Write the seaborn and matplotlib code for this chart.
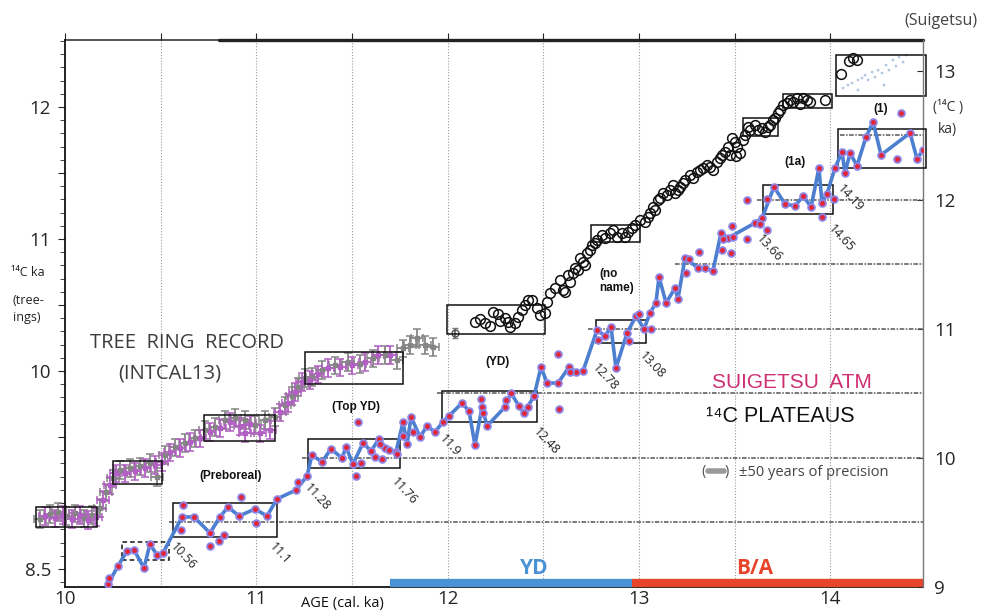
import numpy as np
import matplotlib
matplotlib.use("Agg")
import matplotlib.pyplot as plt
import seaborn as sns
from matplotlib.patches import Rectangle
from matplotlib.lines import Line2D
from matplotlib.ticker import MultipleLocator

# ---------------------------------------------------------------
# Data: calendar age (cal. ka) vs radiocarbon age (14C ka)
# ---------------------------------------------------------------

# IntCal13 tree-ring record (left axis), two interleaved series
tree_gray_cal = [9.869, 9.922, 9.963, 10.005, 10.052, 10.099, 10.141, 10.183, 10.214, 10.251,
                 10.288, 10.340, 10.392, 10.444, 10.481, 10.523, 10.575, 10.627, 10.680, 10.732,
                 10.784, 10.836, 10.889, 10.941, 10.993, 11.045, 11.098, 11.150, 11.187, 11.218,
                 11.255, 11.291, 11.343, 11.411, 11.479, 11.542, 11.610, 11.673, 11.736, 11.767,
                 11.803, 11.840, 11.882, 11.924]
tree_gray_c14 = [8.879, 8.917, 8.932, 8.902, 8.924, 8.886, 8.909, 8.962, 9.083, 9.189,
                 9.250, 9.265, 9.280, 9.303, 9.197, 9.364, 9.424, 9.455, 9.492, 9.553,
                 9.576, 9.629, 9.644, 9.629, 9.591, 9.629, 9.652, 9.742, 9.811, 9.879,
                 9.947, 9.955, 10.008, 10.045, 10.068, 10.053, 10.098, 10.121, 10.083, 10.174,
                 10.197, 10.250, 10.197, 10.182]
tree_purple_cal = [9.895, 9.948, 9.990, 10.037, 10.078, 10.120, 10.162, 10.199, 10.235, 10.267,
                   10.314, 10.366, 10.418, 10.470, 10.507, 10.549, 10.601, 10.653, 10.706, 10.758,
                   10.810, 10.863, 10.915, 10.941, 10.967, 11.019, 11.072, 11.124, 11.166, 11.202,
                   11.239, 11.281, 11.323, 11.375, 11.438, 11.500, 11.568, 11.636, 11.699]
tree_purple_c14 = [8.902, 8.886, 8.909, 8.879, 8.909, 8.871, 8.894, 9.023, 9.136, 9.227,
                   9.227, 9.242, 9.265, 9.288, 9.311, 9.386, 9.417, 9.462, 9.492, 9.538,
                   9.568, 9.614, 9.583, 9.530, 9.598, 9.530, 9.553, 9.689, 9.758, 9.841,
                   9.917, 9.932, 9.977, 10.023, 10.030, 10.045, 10.068, 10.121, 10.121]

# Suigetsu raw measurements (open circles, left axis)
circ_cal = [12.143, 12.169, 12.196, 12.222, 12.237, 12.263, 12.274, 12.300, 12.316, 12.326,
            12.352, 12.368, 12.389, 12.405, 12.420, 12.441, 12.467, 12.483, 12.509, 12.520,
            12.535, 12.561, 12.588, 12.603, 12.614, 12.629, 12.640, 12.656, 12.666, 12.682,
            12.692, 12.708, 12.718, 12.729, 12.744, 12.755, 12.771, 12.781, 12.807, 12.823,
            12.849, 12.865, 12.886, 12.912, 12.927, 12.943, 12.964, 12.980, 13.006, 13.032,
            13.048, 13.058, 13.074, 13.084, 13.100, 13.110, 13.126, 13.147, 13.163, 13.178,
            13.189, 13.204, 13.215, 13.231, 13.241, 13.267, 13.283, 13.304, 13.319, 13.335,
            13.356, 13.372, 13.387, 13.408, 13.424, 13.434, 13.450, 13.466, 13.476, 13.487,
            13.502, 13.508, 13.513, 13.529, 13.544, 13.555, 13.570, 13.581, 13.607, 13.623,
            13.644, 13.659, 13.675, 13.685, 13.701, 13.711, 13.727, 13.738, 13.753, 13.774,
            13.790, 13.806, 13.826, 13.842, 13.858, 13.879, 13.894, 13.973, 14.057, 14.098,
            14.119, 14.140]
circ_c14 = [10.371, 10.394, 10.364, 10.341, 10.447, 10.432, 10.379, 10.402, 10.371, 10.333,
            10.364, 10.409, 10.462, 10.500, 10.538, 10.538, 10.477, 10.424, 10.439, 10.523,
            10.591, 10.629, 10.689, 10.614, 10.598, 10.727, 10.674, 10.742, 10.780, 10.765,
            10.856, 10.826, 10.803, 10.894, 10.917, 10.955, 10.970, 10.992, 11.030, 11.008,
            11.045, 11.068, 11.015, 11.045, 11.015, 11.053, 11.083, 11.106, 11.144, 11.129,
            11.167, 11.197, 11.242, 11.220, 11.295, 11.311, 11.348, 11.333, 11.371, 11.409,
            11.348, 11.371, 11.394, 11.424, 11.447, 11.485, 11.462, 11.508, 11.523, 11.538,
            11.561, 11.545, 11.523, 11.583, 11.614, 11.636, 11.659, 11.697, 11.636, 11.765,
            11.735, 11.629, 11.697, 11.652, 11.750, 11.788, 11.848, 11.826, 11.864, 11.826,
            11.841, 11.811, 11.848, 11.864, 11.902, 11.917, 11.955, 11.977, 12.015, 12.030,
            12.053, 12.038, 12.068, 12.023, 12.068, 12.053, 12.038, 12.053, 12.250, 12.348,
            12.371, 12.356]
circ_err_cal = [12.039]
circ_err_c14 = [10.288]

# faint light-blue points in the upper right plateau box
faint_cal = [14.067, 14.093, 14.114, 14.145, 14.166, 14.182, 14.198, 14.219, 14.234, 14.250,
             14.271, 14.292, 14.307, 14.328, 14.344, 14.360, 14.381, 14.396, 14.145, 14.281]
faint_c14 = [12.144, 12.167, 12.182, 12.205, 12.220, 12.242, 12.205, 12.265, 12.227, 12.280,
             12.258, 12.318, 12.280, 12.356, 12.311, 12.379, 12.341, 12.394, 12.129, 12.167]

# Suigetsu atmospheric 14C (right axis): connected series + unconnected dots
suig_cal = [10.225, 10.277, 10.324, 10.361, 10.413, 10.444, 10.481, 10.512, 10.612, 10.674,
            10.758, 10.810, 10.852, 10.910, 10.993, 11.056, 11.108, 11.208, 11.265, 11.291,
            11.343, 11.390, 11.448, 11.469, 11.505, 11.558, 11.600, 11.641, 11.673, 11.730,
            11.767, 11.788, 11.809, 11.856, 11.892, 11.934, 11.976, 12.007, 12.075, 12.112,
            12.143, 12.180, 12.206, 12.300, 12.331, 12.373, 12.399, 12.452, 12.488, 12.520,
            12.577, 12.635, 12.671, 12.708, 12.781, 12.823, 12.854, 12.880, 12.938, 12.985,
            13.027, 13.058, 13.089, 13.105, 13.142, 13.189, 13.204, 13.241, 13.309, 13.346,
            13.387, 13.429, 13.466, 13.607, 13.644, 13.706, 13.764, 13.816, 13.858, 13.900,
            13.941, 13.957, 13.983, 14.025, 14.062, 14.077, 14.104, 14.140, 14.187, 14.224,
            14.266, 14.417, 14.454, 14.485]
suig_c14 = [9.023, 9.163, 9.279, 9.287, 9.147, 9.333, 9.248, 9.264, 9.543, 9.543,
            9.419, 9.543, 9.620, 9.550, 9.605, 9.550, 9.682, 9.752, 9.860, 10.023,
            9.969, 10.070, 10.000, 10.085, 9.953, 10.116, 10.054, 10.147, 10.078, 10.047,
            10.279, 10.109, 10.318, 10.163, 10.248, 10.202, 10.279, 10.326, 10.426, 10.364,
            10.101, 10.395, 10.248, 10.395, 10.504, 10.403, 10.349, 10.481, 10.705, 10.581,
            10.581, 10.705, 10.667, 10.674, 10.992, 10.946, 11.016, 10.698, 10.969, 11.101,
            11.000, 11.124, 11.202, 11.403, 11.202, 11.318, 11.233, 11.550, 11.473, 11.473,
            11.450, 11.744, 11.705, 11.822, 11.860, 12.101, 11.969, 11.953, 12.031, 11.946,
            12.248, 11.977, 12.047, 12.248, 12.372, 12.209, 12.364, 12.264, 12.488, 12.605,
            12.349, 12.519, 12.318, 12.388]
suig_extra_cal = [10.230, 10.606, 10.617, 10.758, 10.805, 10.831, 10.920, 10.998, 11.218, 11.521,
                  11.532, 11.547, 11.620, 11.647, 11.657, 11.694, 11.736, 11.767, 11.819, 12.175,
                  12.185, 12.305, 12.420, 12.577, 12.582, 12.640, 12.786, 12.948, 13.001, 13.063,
                  13.246, 13.262, 13.314, 13.434, 13.439, 13.481, 13.487, 13.492, 13.565, 13.565,
                  13.633, 13.670, 13.670, 13.957, 14.020, 14.349, 14.370]
suig_extra_c14 = [9.070, 9.442, 9.636, 9.318, 9.357, 9.403, 9.698, 9.496, 9.814, 9.860,
                  10.279, 9.961, 10.008, 10.109, 9.992, 10.062, 10.031, 10.171, 10.202, 10.457,
                  10.349, 10.450, 10.395, 10.806, 10.380, 10.667, 10.915, 10.907, 11.116, 11.000,
                  11.434, 11.543, 11.597, 11.612, 11.698, 11.589, 11.798, 11.713, 12.000, 11.698,
                  11.814, 11.767, 12.008, 11.868, 12.008, 12.318, 12.674]

# plateau boxes (cal0, cal1, c14_0, c14_1)
tree_boxes = [(9.848, 10.167, 8.818, 8.970), (10.251, 10.507, 9.144, 9.318),
              (10.727, 11.098, 9.470, 9.667), (11.255, 11.767, 9.902, 10.144)]
circ_boxes = [(11.997, 12.509, 10.280, 10.500), (12.750, 13.006, 10.977, 11.106),
              (13.544, 13.727, 11.780, 11.917), (13.753, 14.009, 11.992, 12.098),
              (14.030, 14.500, 12.083, 12.394)]
suig_boxes = [(10.565, 11.108, 9.388, 9.651), (11.270, 11.751, 9.922, 10.147),
              (11.971, 12.467, 10.279, 10.519), (12.776, 13.037, 10.891, 11.070),
              (13.649, 14.015, 11.891, 12.116), (14.041, 14.500, 12.248, 12.550)]
suig_dashed_box = (10.298, 10.544, 9.209, 9.349)

# plateau reference levels (right axis) and where they start
plateau_levels = [9.5, 10.0, 10.5, 11.0, 11.5, 12.0, 12.5]
plateau_starts = [10.544, 11.239, 11.945, 12.734, 13.189, 13.617, 14.051]

# climate periods along the bottom
period_names = ["YD", "B/A"]
period_start = [11.699, 12.964]
period_end = [12.964, 14.485]
period_colors = ["#4a92d6", "#e8432b"]

# plateau boundary ages written along the Suigetsu curve
age_labels = ["10.56", "11.1", "11.28", "11.76", "11.9", "12.48",
              "12.78", "13.08", "13.66", "14.65", "14.19"]

# ---------------------------------------------------------------
W, H = 994, 612


def at(px, py):
    """Reference pixel position -> figure fraction."""
    return px / W, 1 - py / H


sns.set_style("white")
plt.rcParams["font.family"] = ["Open Sans", "DejaVu Sans"]

fig = plt.figure(figsize=(W / 100, H / 100), dpi=100)
ax = fig.add_axes([65 / W, 25 / H, 858 / W, 547 / H])
ax2 = ax.twinx()

ax.set_xlim(10, 14.485)
ax.set_ylim(8.364, 12.508)
ax2.set_ylim(9, 13.240)

# grid: dotted verticals every 0.5 ka
xt = np.arange(10, 14.49, 0.5)
for x in xt[1:]:
    ax.axvline(x, color="#9a9a9a", lw=0.8, ls=(0, (1, 1.6)), zorder=0)

# plateau reference lines
ax2.hlines(plateau_levels, plateau_starts, 14.485, colors="#555555",
           linestyles=[(0, (3, 1, 1, 1))], lw=1.1, zorder=1)

# tree-ring record with error bars
for cal, c14, col in [(tree_gray_cal, tree_gray_c14, "#858585"),
                      (tree_purple_cal, tree_purple_c14, "#b15fc2")]:
    eb = ax.errorbar(cal, c14, yerr=0.065, xerr=0.03, fmt="s", ms=3,
                     color=col, ecolor=col, elinewidth=1.3, capsize=3,
                     capthick=1.1, zorder=2)
    eb.lines[0].set_clip_on(False)
    for a in list(eb.lines[1]) + list(eb.lines[2]):
        a.set_clip_on(False)

# Suigetsu open circles
ax.plot(circ_cal, circ_c14, "o", mfc="none", mec="#111111", ms=7, mew=1.1, zorder=3)
ax.errorbar(circ_err_cal, circ_err_c14, yerr=0.04, fmt="o", mfc="none", mec="#555555",
            ecolor="#777777", ms=5, capsize=2.5, zorder=3)
sns.scatterplot(x=faint_cal, y=faint_c14, ax=ax, s=4, color="#b4c6e2",
                edgecolor="none", zorder=2)

# plateau boxes
for x0, x1, y0, y1 in tree_boxes + circ_boxes:
    ax.add_patch(Rectangle((x0, y0), x1 - x0, y1 - y0, fill=False, ec="#111111",
                           lw=1.1, clip_on=False, zorder=4))
for x0, x1, y0, y1 in suig_boxes:
    ax2.add_patch(Rectangle((x0, y0), x1 - x0, y1 - y0, fill=False, ec="#111111",
                            lw=1.1, clip_on=False, zorder=4))
x0, x1, y0, y1 = suig_dashed_box
ax2.add_patch(Rectangle((x0, y0), x1 - x0, y1 - y0, fill=False, ec="#111111",
                        lw=1.1, ls=(0, (3, 2)), zorder=4))

# Suigetsu atmospheric series
sns.lineplot(x=suig_cal, y=suig_c14, ax=ax2, sort=False, estimator=None,
             color="#4d7fd0", lw=2.6, zorder=5)
sns.scatterplot(x=suig_cal + suig_extra_cal, y=suig_c14 + suig_extra_c14, ax=ax2,
                s=24, color="#e2263a", edgecolor="#8c86e6", linewidth=1.3, zorder=6)

# period bars along the bottom
for s, e, c in zip(period_start, period_end, period_colors):
    ax.hlines(0.0075, s, e, transform=ax.get_xaxis_transform(), color=c, lw=6,
              clip_on=False, zorder=7)

# ---- axes, ticks, spines ----
ax.set_xticks(xt)
ax.set_xticklabels([f"{t:.0f}" if t == int(t) else "" for t in xt])
ax.tick_params(axis="x", direction="in", length=5, labelsize=13.5, pad=2, color="#222")
sec = ax.secondary_xaxis("top")
sec.set_xticks(xt)
sec.set_xticklabels([])
sec.tick_params(direction="out", length=5, color="#222")
sec.spines["top"].set_linewidth(1.1)
ax.plot([0.18, 1.0], [1.0, 1.0], transform=ax.transAxes, color="#222", lw=2.4,
        clip_on=False, zorder=8)

yt = [8.5, 9, 9.5, 10, 10.5, 11, 11.5, 12]
ax.set_yticks(yt)
ax.set_yticklabels(["8.5", "", "", "10", "", "11", "", "12"])
ax.yaxis.set_minor_locator(MultipleLocator(0.1))
ax.tick_params(axis="y", which="major", direction="out", length=5, labelsize=13.5, pad=5)
ax.tick_params(axis="y", which="minor", direction="out", length=3.5, left=True)

ax2.set_yticks([9, 10, 11, 12, 13])
ax2.tick_params(axis="y", direction="in", length=4, labelsize=13.5, pad=8)
ax2.set_xlabel("")
ax2.set_ylabel("")
ax.set_xlabel("")
ax.set_ylabel("")

for sp in ["left", "bottom"]:
    ax.spines[sp].set_color("#111")
    ax.spines[sp].set_linewidth(1.3)
ax.spines["right"].set_visible(False)
ax.spines["top"].set_visible(False)
for sp in ["left", "bottom", "top"]:
    ax2.spines[sp].set_visible(False)
ax2.spines["right"].set_color("#777")
ax2.spines["right"].set_linewidth(1.0)

# ---- text ----
big = dict(ha="center", va="center")
fig.text(*at(187, 343), "TREE  RING  RECORD", fontsize=14.5, color="#3c3c3c", **big)
fig.text(*at(170, 374), "(INTCAL13)", fontsize=14.5, color="#3c3c3c", **big)
fig.text(*at(792, 383), "SUIGETSU  ATM", fontsize=15, color="#cf2f72",
         family=["Liberation Sans", "DejaVu Sans"], **big)
fig.text(*at(780, 417), "\u00b9\u2074C PLATEAUS", fontsize=15.5, color="#111",
         family=["Liberation Sans", "DejaVu Sans"], **big)
fig.text(*at(701, 472), "(", fontsize=10.5, color="#555", ha="left", va="center")
fig.add_artist(Line2D([708 / W, 724 / W], [1 - 471 / H] * 2, lw=4, color="#9a9a9a"))
fig.text(*at(725, 472), ")", fontsize=10.5, color="#555", ha="left", va="center")
fig.text(*at(739, 472), "\u00b150 years of precision", fontsize=10.5, color="#444",
         ha="left", va="center")

bold = dict(fontsize=8.5, fontweight="bold", color="#111",
            family=["Liberation Sans", "DejaVu Sans"], va="center")
fig.text(*at(231, 476), "(Preboreal)", ha="center", **bold)
fig.text(*at(356, 407), "(Top YD)", ha="center", **bold)
fig.text(*at(497, 362), "(YD)", ha="center", **bold)
fig.text(*at(599, 281), "(no\nname)", ha="left", linespacing=1.15, **bold)
fig.text(*at(795, 162), "(1a)", ha="center", **bold)
fig.text(*at(881, 109), "(1)", ha="center", **bold)

label_px = [(183, 556), (280, 554), (317, 497), (404, 491), (450, 446), (546, 441),
            (605, 377), (652, 365), (769, 248), (841, 238), (850, 198)]
for txt, (px, py) in zip(age_labels, label_px):
    fig.text(*at(px, py), txt, fontsize=9, color="#222", rotation=-47,
             rotation_mode="anchor", ha="center", va="center")

fig.text(*at(28, 272), "\u00b9\u2074C ka", fontsize=9, color="#222", **big)
fig.text(*at(28, 300), "(tree-", fontsize=9, color="#222", **big)
fig.text(*at(27, 318), "ings)", fontsize=9, color="#222", **big)
fig.text(*at(941, 21), "(Suigetsu)", fontsize=11.5, color="#444", **big)
fig.text(*at(948, 108), "(\u00b9\u2074C )", fontsize=10, color="#333", **big)
fig.text(*at(947, 129), "ka)", fontsize=10, color="#333", **big)
fig.text(*at(342, 603), "AGE (cal. ka)", fontsize=10.5, color="#111", **big)

fig.text(*at(534, 569), period_names[0], fontsize=15, fontweight="bold",
         color=period_colors[0], **big)
fig.text(*at(755, 569), period_names[1], fontsize=15, fontweight="bold",
         color=period_colors[1], **big)

fig.savefig("out.png", dpi=100, facecolor="white")
